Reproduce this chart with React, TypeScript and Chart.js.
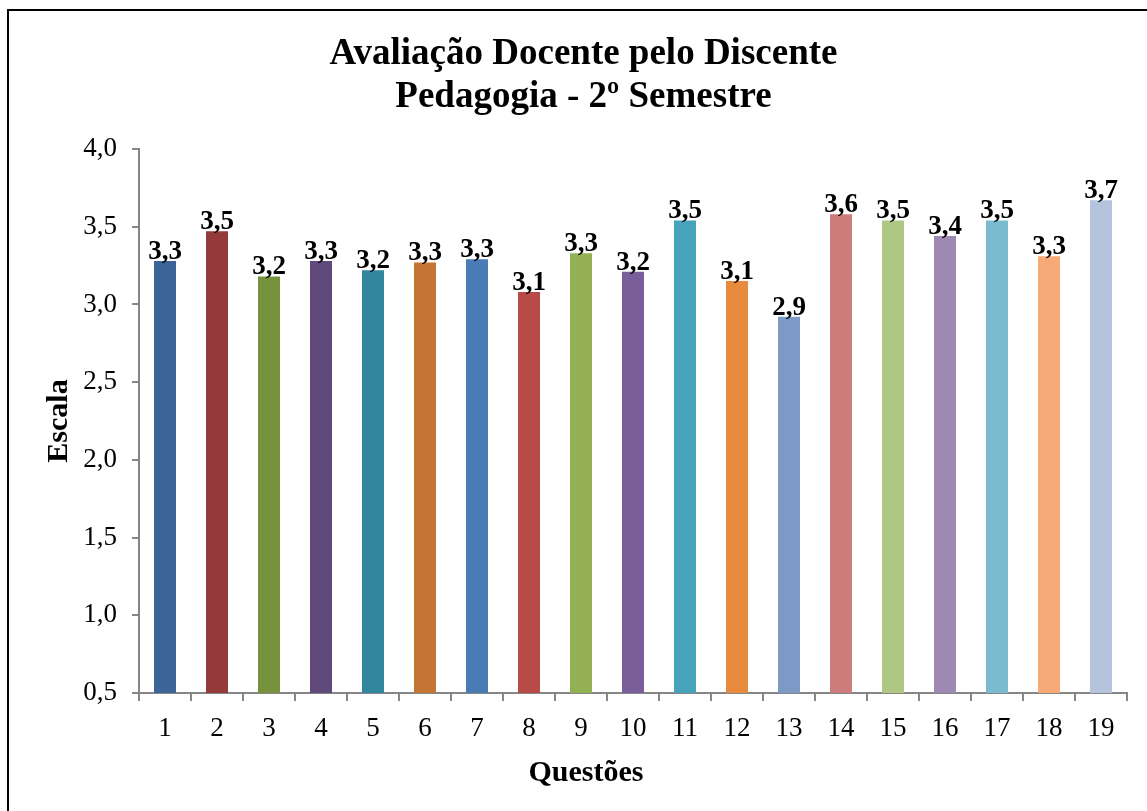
import React, { useEffect, useRef } from "react";
import { Chart, registerables } from "chart.js";

Chart.register(...registerables);

const categories = ["1","2","3","4","5","6","7","8","9","10","11","12","13","14","15","16","17","18","19"];
const values = [3.28, 3.47, 3.18, 3.28, 3.22, 3.27, 3.29, 3.08, 3.33, 3.21, 3.54, 3.15, 2.92, 3.58, 3.54, 3.44, 3.54, 3.31, 3.67];
const barColors = [
  "#3C6496", "#953A3B", "#77923C", "#604A7B", "#31859C", "#C47433", "#4A7BB5",
  "#B84A48", "#93B054", "#7A5E9A", "#46A3BA", "#E98B3E", "#7D9AC6", "#CC7C7B",
  "#AEC785", "#9D89B3", "#7BBBCF", "#F7A978", "#B5C3DD",
];
const titleLines = ["Avaliação Docente pelo Discente", "Pedagogia - 2º Semestre"];
const yTitle = "Escala";
const xTitle = "Questões";
const yMin = 0.5;
const yMax = 4.0;
const yStep = 0.5;

const FONT = "'Liberation Serif', 'Times New Roman', serif";
const fmt = (v: number) => v.toFixed(1).replace(".", ",");

const frame = {
  id: "frame",
  afterDraw(chart: any) {
    const ctx = chart.ctx;
    ctx.save();
    ctx.strokeStyle = "#000";
    ctx.lineWidth = 2;
    ctx.beginPath();
    ctx.moveTo(8, 811);
    ctx.lineTo(8, 10);
    ctx.lineTo(1147, 10);
    ctx.stroke();
    // x axis title, centred on the whole chart like the reference
    ctx.font = `bold 30px ${FONT}`;
    ctx.fillStyle = "#000";
    ctx.textAlign = "center";
    ctx.textBaseline = "middle";
    ctx.fillText(xTitle, 586, 773);
    ctx.restore();
  },
};

const dataLabels = {
  id: "dataLabels",
  afterDatasetsDraw(chart: any) {
    const ctx = chart.ctx;
    const meta = chart.getDatasetMeta(0);
    ctx.save();
    ctx.font = `bold 27px ${FONT}`;
    ctx.fillStyle = "#000";
    ctx.textAlign = "center";
    ctx.textBaseline = "alphabetic";
    meta.data.forEach((bar: any, i: number) => {
      ctx.fillText(fmt(values[i]), bar.x, bar.y - 2);
    });
    ctx.restore();
  },
};

export default function App() {
  const ref = useRef<HTMLCanvasElement>(null);
  useEffect(() => {
    if (!ref.current) return;
    const chart = new Chart(ref.current, {
      type: "bar",
      data: {
        labels: categories,
        datasets: [
          {
            data: values,
            backgroundColor: barColors,
            borderWidth: 0,
            barPercentage: 0.423,
            categoryPercentage: 1,
          },
        ],
      },
      options: {
        animation: false,
        responsive: false,
        layout: { padding: { left: 40, right: 20, top: 0, bottom: 0 } },
        plugins: {
          legend: { display: false },
          tooltip: { enabled: false },
          title: {
            display: true,
            text: titleLines,
            color: "#000",
            font: { family: FONT, size: 37, weight: "bold", lineHeight: 1.162 },
            padding: { top: 32.5, bottom: 30.5 },
          },
        },
        scales: {
          x: {
            afterFit: (s: any) => { s.height = 118; },
            grid: { drawOnChartArea: false, drawTicks: true, tickLength: 8, color: "#868686", lineWidth: 2 },
            border: { color: "#868686", width: 2 },
            ticks: { color: "#000", font: { family: FONT, size: 27 }, padding: 12 },
            title: { display: false, text: xTitle },
          },
          y: {
            min: yMin,
            max: yMax,
            afterFit: (s: any) => { s.width = 99; },
            grid: { drawOnChartArea: false, drawTicks: true, tickLength: 7, color: "#868686", lineWidth: 2 },
            border: { color: "#868686", width: 2 },
            ticks: {
              stepSize: yStep,
              color: "#000",
              font: { family: FONT, size: 27 },
              padding: 15,
              callback: (v: any) => fmt(Number(v)),
            },
            title: {
              display: true,
              text: yTitle,
              color: "#000",
              font: { family: FONT, size: 30, weight: "bold" },
              padding: { top: 1, bottom: 0 },
            },
          },
        },
      },
      plugins: [dataLabels, frame],
    });
    return () => chart.destroy();
  }, []);
  return (
    <div style={{ position: "absolute", left: 0, top: 0, width: 1147, height: 811, background: "#fff" }}>
      <canvas ref={ref} width={1147} height={811} style={{ display: "block" }} />
    </div>
  );
}
